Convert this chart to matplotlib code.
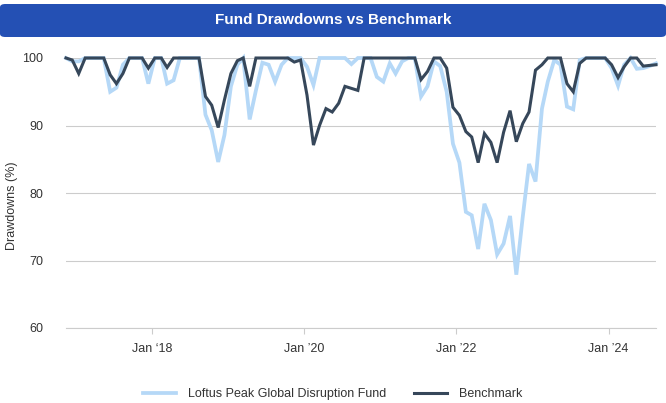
import matplotlib
matplotlib.use("Agg")
import matplotlib.pyplot as plt
from matplotlib.patches import FancyBboxPatch
from matplotlib.lines import Line2D
import pandas as pd

plt.rcParams['font.family'] = ['Liberation Sans', 'DejaVu Sans']

# ---- data (monthly, Nov 2016 .. Aug 2024) ----
start_month = "2016-11-01"
n_points = 94

fund = [100, 99.5, 99.5, 100, 100, 100, 100, 95.0, 95.6, 99.0,
        100, 100, 100, 96.2, 100, 100, 96.2, 96.7, 100, 100,
        100, 100, 91.6, 89.3, 84.6, 88.6, 95.8, 99.0, 100, 90.9,
        95.2, 99.3, 99.0, 96.5, 99.0, 100, 100, 100, 98.7, 96.0,
        100, 100, 100, 100, 100, 99.1, 100, 100, 100, 97.2,
        96.5, 99.2, 97.7, 99.5, 100, 100, 94.3, 95.8, 99.5, 98.8,
        95.0, 87.3, 84.5, 77.2, 76.7, 71.7, 78.4, 76.0, 70.9, 72.5,
        76.6, 67.9, 76.5, 84.3, 81.7, 92.5, 96.5, 99.7, 99.0, 92.8,
        92.4, 99.7, 100, 100, 100, 100, 98.5, 95.9, 99.0, 100,
        98.4, 98.5, 98.8, 99.2]

benchmark = [100, 99.7, 97.7, 100, 100, 100, 100, 97.5, 96.2, 97.7,
             100, 100, 100, 98.5, 100, 100, 98.6, 100, 100, 100,
             100, 100, 94.3, 93.0, 89.7, 93.8, 97.7, 99.6, 100, 95.8,
             100, 100, 100, 100, 100, 100, 99.4, 99.7, 94.5, 87.1,
             90.0, 92.5, 92.0, 93.3, 95.8, 95.5, 95.2, 100, 100, 100,
             100, 100, 100, 100, 100, 100, 96.8, 98.0, 100, 100,
             98.5, 92.7, 91.5, 89.1, 88.3, 84.5, 88.8, 87.5, 84.5, 89.0,
             92.2, 87.6, 90.3, 92.0, 98.2, 99.0, 100, 100, 100, 96.2,
             95.0, 99.2, 100, 100, 100, 100, 99.0, 97.1, 98.7, 100,
             100, 98.8, 98.9, 99.0]

series_names = ["Loftus Peak Global Disruption Fund", "Benchmark"]
y_ticks = [60, 70, 80, 90, 100]
x_tick_years = [2018, 2020, 2022, 2024]
x_tick_labels = ["Jan \u201818", "Jan \u201920", "Jan \u201922", "Jan \u201924"]
title = "Fund Drawdowns vs Benchmark"
y_label = "Drawdowns (%)"

dates = pd.date_range(start_month, periods=n_points, freq="MS") + pd.Timedelta(days=14)

W, H = 666, 403
fig = plt.figure(figsize=(W / 100, H / 100), dpi=100)

# header banner
banner = FancyBboxPatch((0.0, 1 - 37 / H), 1.0, 33 / H,
                        boxstyle="round,pad=0,rounding_size=0.008",
                        transform=fig.transFigure, fc="#2450b4", ec="none")
fig.patches.append(banner)
fig.text(0.5, 1 - 20.5 / H, title, color="white", fontweight="bold",
         fontsize=11, ha="center", va="center")

ax = fig.add_axes([66 / W, 1 - 328 / H, (656 - 66) / W, (328 - 58) / H])

fund_color = "#b5d8f7"
bench_color = "#36475a"
ax.plot(dates, fund, color=fund_color, lw=2.7, solid_joinstyle="miter",
        clip_on=False, zorder=3)
ax.plot(dates, benchmark, color=bench_color, lw=2.2, solid_joinstyle="miter",
        clip_on=False, zorder=4)

ax.set_xlim(dates[0], dates[-1])
ax.set_ylim(60, 100)
ax.set_yticks(y_ticks)
ax.set_yticklabels([str(v) for v in y_ticks])
ax.set_xticks([pd.Timestamp(f"{y}-01-01") for y in x_tick_years])
ax.set_xticklabels(x_tick_labels)

for s in ax.spines.values():
    s.set_visible(False)
ax.grid(axis="y", color="#cccccc", lw=0.8)
ax.axhline(60, color="#cccccc", lw=0.8, clip_on=False, zorder=1)
ax.set_axisbelow(True)
ax.tick_params(axis="y", length=0, pad=16.5, labelsize=9, labelcolor="#333333")
ax.tick_params(axis="x", length=4, width=0.8, color="#cccccc", pad=7,
               labelsize=9, labelcolor="#333333")

fig.text(12 / W, 1 - 206 / H, y_label, rotation=90, ha="center", va="center",
         fontsize=9, color="#333333")

handles = [Line2D([], [], color=fund_color, lw=2.7),
           Line2D([], [], color=bench_color, lw=2.2)]
fig.legend(handles, series_names, loc="center", bbox_to_anchor=(0.5, 1 - 394 / H),
           ncol=2, frameon=False, fontsize=9, labelcolor="#333333",
           handlelength=2.6, handletextpad=1.0, columnspacing=2.2)

fig.savefig("out.png", dpi=100)
